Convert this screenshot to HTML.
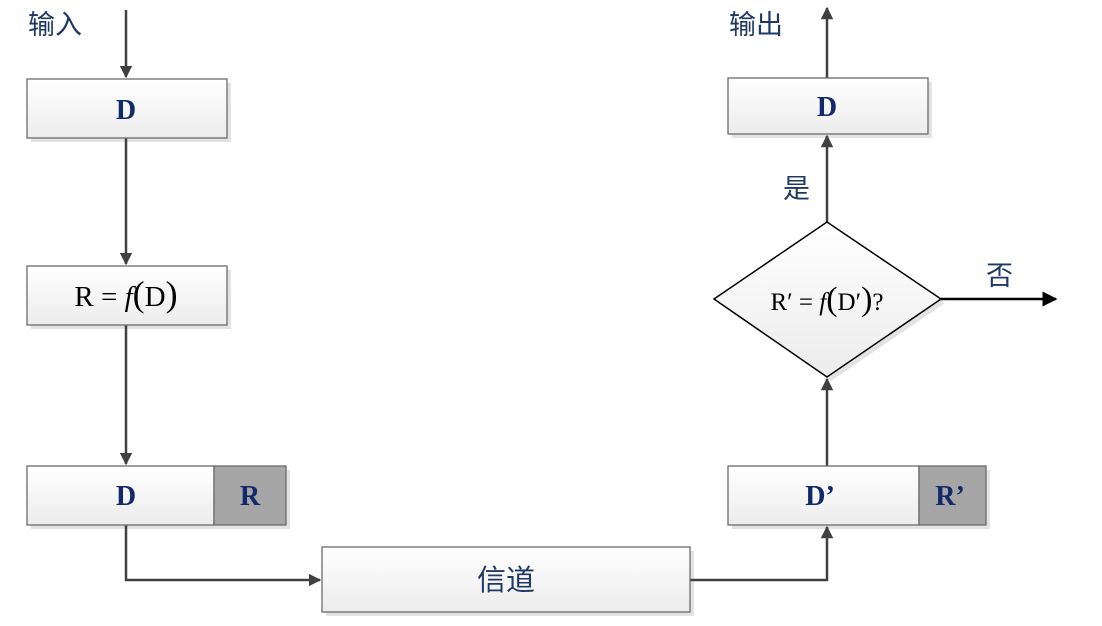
<!DOCTYPE html>
<html><head><meta charset="utf-8"><style>
html,body{margin:0;padding:0;background:#fff;}
svg{display:block;}
.cn{font-family:"Liberation Sans","Noto Sans CJK SC",sans-serif;fill:#1f3864;}
.bd{font-family:"Liberation Serif",serif;font-weight:bold;fill:#12296b;}
.mt{font-family:"Liberation Serif",serif;fill:#000;}
</style></head><body>
<svg width="1102" height="626" viewBox="0 0 1102 626" xmlns="http://www.w3.org/2000/svg">
<defs>
<linearGradient id="g" x1="0" y1="0" x2="0" y2="1"><stop offset="0" stop-color="#ffffff"/><stop offset="1" stop-color="#ececec"/></linearGradient>
<marker id="a" viewBox="0 0 10 10" refX="9" refY="5" markerWidth="5" markerHeight="5" orient="auto"><path d="M0,0 L10,5 L0,10 z" fill="#404040"/></marker>
<marker id="b" viewBox="0 0 10 10" refX="9" refY="5" markerWidth="6" markerHeight="6" orient="auto"><path d="M0,0 L10,5 L0,10 z" fill="#000"/></marker>
</defs>
<g fill="#e3e3e3">
<rect x="31" y="83" width="200" height="59"/><rect x="31" y="270" width="200" height="59"/><rect x="31" y="470" width="259" height="59"/>
<rect x="326" y="551" width="368" height="65"/><rect x="732" y="82" width="200" height="56"/><rect x="732" y="470" width="258" height="59"/>
<path d="M718,303 L831,226 L945,303 L831,381 z"/>
</g>
<g stroke="#404040" stroke-width="2.5" fill="none">
<line x1="126" y1="10" x2="126" y2="77" marker-end="url(#a)"/>
<line x1="126" y1="138" x2="126" y2="264" marker-end="url(#a)"/>
<line x1="126" y1="325" x2="126" y2="464" marker-end="url(#a)"/>
<polyline points="126,525 126,580 320,580" marker-end="url(#a)"/>
<polyline points="690,580 827,580 827,527" marker-end="url(#a)"/>
<line x1="827" y1="466" x2="827" y2="379" marker-end="url(#a)"/>
<line x1="827" y1="222" x2="827" y2="136" marker-end="url(#a)"/>
<line x1="827" y1="78" x2="827" y2="8" marker-end="url(#a)"/>
</g>
<line x1="941" y1="299" x2="1056" y2="299" stroke="#000" stroke-width="2.5" marker-end="url(#b)"/>
<g stroke="#6b6b6b" stroke-width="1.3">
<rect x="27" y="79" width="200" height="59" fill="url(#g)"/>
<rect x="27" y="266" width="200" height="59" fill="url(#g)"/>
<rect x="27" y="466" width="187" height="59" fill="url(#g)"/>
<rect x="214" y="466" width="72" height="59" fill="#a6a6a6"/>
<rect x="322" y="547" width="368" height="65" fill="url(#g)"/>
<rect x="728" y="78" width="200" height="56" fill="url(#g)"/>
<rect x="728" y="466" width="191" height="59" fill="url(#g)"/>
<rect x="919" y="466" width="67" height="59" fill="#a6a6a6"/>
</g>
<path d="M714,299 L827,222 L941,299 L827,377 z" fill="url(#g)" stroke="#000" stroke-width="1.5"/>
<text x="28" y="34" class="cn" font-size="27">输入</text>
<text x="729" y="34" class="cn" font-size="27">输出</text>
<text x="783" y="198" class="cn" font-size="27">是</text>
<text x="986" y="285" class="cn" font-size="27">否</text>
<text x="506" y="590" class="cn" font-size="29" text-anchor="middle">信道</text>
<text x="126" y="119" class="bd" font-size="28" text-anchor="middle">D</text>
<text x="126" y="505" class="bd" font-size="28" text-anchor="middle">D</text>
<text x="250" y="505" class="bd" font-size="28" text-anchor="middle">R</text>
<text x="827" y="116" class="bd" font-size="28" text-anchor="middle">D</text>
<text x="820" y="505" class="bd" font-size="28" text-anchor="middle">D’</text>
<text x="950" y="505" class="bd" font-size="28" text-anchor="middle">R’</text>
<text x="126" y="306" class="mt" font-size="29" text-anchor="middle">R = <tspan font-style="italic">f</tspan><tspan font-size="36">(</tspan>D<tspan font-size="36">)</tspan></text>
<text x="827" y="310" class="mt" font-size="25" text-anchor="middle">R′ = <tspan font-style="italic">f</tspan><tspan font-size="34">(</tspan>D′<tspan font-size="34">)</tspan>?</text>
</svg>
</body></html>
